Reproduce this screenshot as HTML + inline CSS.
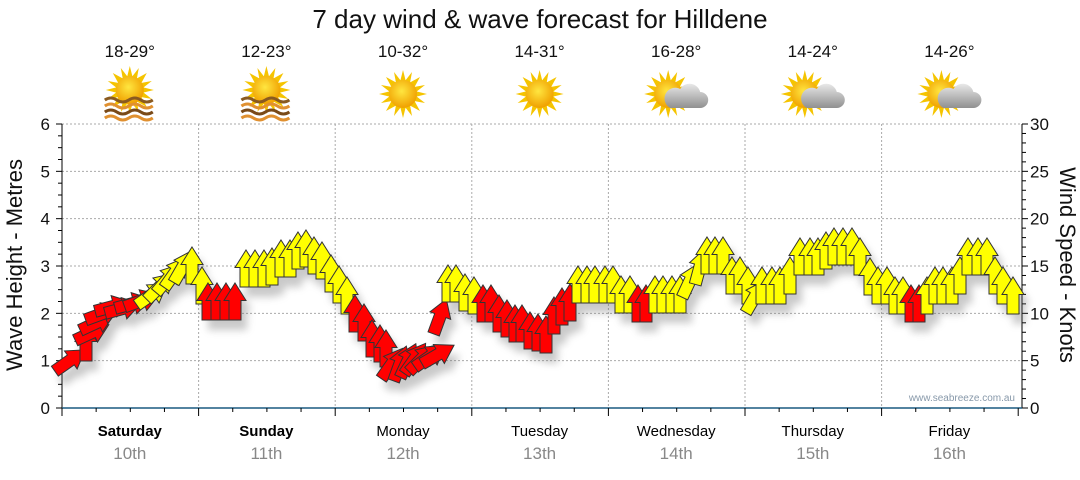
<!DOCTYPE html>
<html><head><meta charset="utf-8"><style>
body{margin:0;background:#fff;width:1080px;height:475px;overflow:hidden}
svg{font-family:"Liberation Sans","DejaVu Sans",sans-serif}
</style></head><body>
<svg id="s" width="1080" height="475" xmlns="http://www.w3.org/2000/svg">
<defs>
<filter id="sh" x="-50%" y="-50%" width="200%" height="200%"><feGaussianBlur stdDeviation="4"/></filter>
<radialGradient id="sun" cx="45%" cy="40%" r="60%"><stop offset="0" stop-color="#ffe640"/><stop offset="1" stop-color="#f0a000"/></radialGradient>
<linearGradient id="cl" x1="0" y1="0" x2="0" y2="1"><stop offset="0" stop-color="#e8e8e8"/><stop offset="1" stop-color="#909090"/></linearGradient>
<g id="sunI"><g fill="#f5c400"><polygon points="0,-24 3,-12 -3,-12"/><polygon points="0,24 3,12 -3,12"/><polygon points="-24,0 -12,3 -12,-3"/><polygon points="24,0 12,3 12,-3"/><polygon points="-17,-17 -6,-11 -11,-6"/><polygon points="17,-17 6,-11 11,-6"/><polygon points="-17,17 -6,11 -11,6"/><polygon points="17,17 6,11 11,6"/><polygon points="-9,-22 -2,-13 -7,-11"/><polygon points="9,-22 2,-13 7,-11"/><polygon points="-22,-9 -13,-2 -11,-7"/><polygon points="22,-9 13,-2 11,-7"/><polygon points="-22,9 -13,2 -11,7"/><polygon points="22,9 13,2 11,7"/><polygon points="-9,22 -2,13 -7,11"/><polygon points="9,22 2,13 7,11"/></g><circle r="14" fill="url(#sun)"/></g>
<g id="wav" fill="none" stroke-width="3"><path d="M-25,2 q6,-4 12,0 t12,0 t12,0 t12,0" stroke="#8a5a20"/><path d="M-25,8 q6,-4 12,0 t12,0 t12,0 t12,0" stroke="#e09030"/><path d="M-25,14 q6,-4 12,0 t12,0 t12,0 t12,0" stroke="#7a4a18"/><path d="M-25,20 q6,-4 12,0 t12,0 t12,0 t12,0" stroke="#e09030"/></g>
<g id="cld"><path d="M-6,14 h30 a8,8 0 0 0 0,-16 a11,11 0 0 0 -20,-3 a8,8 0 0 0 -10,19z" fill="url(#cl)"/></g>
</defs>
<text x="540" y="28" font-size="26" text-anchor="middle" fill="#111">7 day wind &amp; wave forecast for Hilldene</text>
<g id="grid" stroke="#aaa" stroke-dasharray="2,2" stroke-width="1"></g>
<g id="ax"></g>
<g id="arr"></g>
<text x="1015" y="401" font-size="10" fill="#8899aa" text-anchor="end">www.seabreeze.com.au</text>
<text transform="translate(22,265) rotate(-90)" font-size="22" text-anchor="middle" fill="#111">Wave Height - Metres</text>
<text transform="translate(1060,265) rotate(90)" font-size="22" text-anchor="middle" fill="#111">Wind Speed - Knots</text>
</svg>
<script>
var NS="http://www.w3.org/2000/svg",s=document.getElementById('s');
function el(p,t,a,txt){var e=document.createElementNS(NS,t);for(var k in a)e.setAttribute(k,a[k]);if(txt!==undefined)e.textContent=txt;p.appendChild(e);return e;}
var L=62,R=1022,Y0=408,Y6=124,DW=136.6;
var g=document.getElementById('grid'),ax=document.getElementById('ax');
for(var i=1;i<=6;i++){var y=Y0-(Y0-Y6)*i/6;el(g,'line',{x1:L,x2:R,y1:y,y2:y});}
for(var d=1;d<7;d++){var x=L+DW*d;el(g,'line',{x1:x,x2:x,y1:Y6,y2:Y0});}
el(ax,'line',{x1:L,x2:L,y1:Y6,y2:Y0+4,stroke:'#000'});
el(ax,'line',{x1:R,x2:R,y1:Y6,y2:Y0,stroke:'#000'});
el(ax,'line',{x1:L,x2:R,y1:Y0,y2:Y0,stroke:'#1a5a80','stroke-width':1.5});
for(var i=0;i<=24;i++){var y=Y0-(Y0-Y6)*i/24;el(ax,'line',{x1:L-(i%4?4:6),x2:L,y1:y,y2:y,stroke:'#000'});}
for(var i=0;i<=30;i++){var y=Y0-(Y0-Y6)*i/30;el(ax,'line',{x1:R,x2:R+(i%5?4:6),y1:y,y2:y,stroke:'#000'});}
for(var i=0;i<=6;i++){var y=Y0-(Y0-Y6)*i/6;el(ax,'text',{x:50,y:y+6,'font-size':17,'text-anchor':'end',fill:'#111'},i);
 el(ax,'text',{x:1030,y:y+6,'font-size':17,fill:'#111'},i*5);}
for(var i=0;i<=28;i++){var x=L+DW*i/4;el(ax,'line',{x1:x,x2:x,y1:Y0,y2:Y0+(i%4?4:8),stroke:'#000'});}
var days=["Saturday","Sunday","Monday","Tuesday","Wednesday","Thursday","Friday"],temps=["18-29°","12-23°","10-32°","14-31°","16-28°","14-24°","14-26°"];
for(var d=0;d<7;d++){var cx=L+DW*(d+0.5)-0.5;
 el(ax,'text',{x:cx,y:436,'font-size':15,'text-anchor':'middle',fill:'#000','font-weight':d<2?'bold':'normal'},days[d]);
 el(ax,'text',{x:cx,y:459,'font-size':17,'text-anchor':'middle',fill:'#888'},(10+d)+'th');
 el(ax,'text',{x:cx,y:57,'font-size':17,'text-anchor':'middle',fill:'#111'},temps[d]);
 if(d<2){el(ax,'use',{href:'#sunI',x:cx,y:90});el(ax,'use',{href:'#wav',x:cx,y:98});}
 else if(d<4){el(ax,'use',{href:'#sunI',x:cx,y:94});}
 else{el(ax,'use',{href:'#sunI',x:cx-8,y:94});el(ax,'use',{href:'#cld',x:cx,y:94});}
}
var A=[[70,342,55,'R'],[86,324,0,'R'],[92,314,65,'R'],[97,304,65,'R'],[103,295,70,'R'],[113,288,75,'R'],[123,290,75,'R'],[133,285,75,'R'],[142,282,70,'R'],[152,276,55,'Y'],[160,268,45,'Y'],[168,260,40,'Y'],[175,254,35,'Y'],[183,248,30,'Y'],[192,247,0,'Y'],[202,267,0,'Y'],
[208,283,0,'R'],[217,283,0,'R'],[226,283,0,'R'],[235,283,0,'R'],[246,250,0,'Y'],[255,250,0,'Y'],[264,250,0,'Y'],[272,248,0,'Y'],[281,240,0,'Y'],[290,240,0,'Y'],[298,232,0,'Y'],[306,230,0,'Y'],[314,237,0,'Y'],[322,242,0,'Y'],[331,255,0,'Y'],[339,266,0,'Y'],[347,277,0,'Y'],
[355,295,0,'R'],[364,304,0,'R'],[372,320,0,'R'],[380,325,0,'R'],[386,330,0,'R'],[392,345,35,'R'],[400,345,20,'R'],[408,342,25,'R'],[415,340,35,'R'],[422,340,45,'R'],[430,338,55,'R'],[438,336,60,'R'],[440,298,20,'R'],
[448,265,0,'Y'],[456,265,0,'Y'],[465,274,0,'Y'],[474,277,0,'Y'],[483,285,0,'R'],[491,285,0,'R'],[499,295,0,'R'],[507,300,0,'R'],[515,305,0,'R'],[522,305,0,'R'],[530,312,0,'R'],[538,314,0,'R'],[546,316,0,'R'],[554,297,0,'R'],[562,288,0,'R'],[570,284,0,'R'],
[578,266,0,'Y'],[587,266,0,'Y'],[595,266,0,'Y'],[605,266,0,'Y'],[613,266,0,'Y'],[621,276,0,'Y'],[630,276,0,'Y'],[638,285,0,'R'],[646,285,0,'R'],[655,276,0,'Y'],[663,276,0,'Y'],[672,276,0,'Y'],[680,276,0,'Y'],[690,262,25,'Y'],[700,248,15,'Y'],[707,237,0,'Y'],[715,237,0,'Y'],[723,237,0,'Y'],[732,257,0,'Y'],[740,257,0,'Y'],[748,267,0,'Y'],[755,278,30,'Y'],
[762,267,0,'Y'],[772,267,0,'Y'],[780,267,0,'Y'],[790,257,0,'Y'],[800,238,0,'Y'],[810,238,0,'Y'],[818,238,0,'Y'],[826,232,0,'Y'],[834,228,0,'Y'],[843,228,0,'Y'],[852,228,0,'Y'],[860,238,0,'Y'],[870,258,0,'Y'],[878,267,0,'Y'],[887,267,0,'Y'],[895,277,0,'Y'],[903,277,0,'Y'],
[911,285,0,'R'],[919,285,0,'R'],[927,277,0,'Y'],[935,267,0,'Y'],[943,267,0,'Y'],[952,267,0,'Y'],[960,257,0,'Y'],[968,238,0,'Y'],[978,238,0,'Y'],[987,238,0,'Y'],[995,257,0,'Y'],[1003,267,0,'Y'],[1013,277,0,'Y']];
var ag=document.getElementById('arr');
var shp="0,-18.5 11,-1 6,-1 6,18.5 -6,18.5 -6,-1 -11,-1";
var sg=el(ag,'g',{filter:'url(#sh)',opacity:0.35});
A.forEach(function(a){el(sg,'polygon',{points:shp,fill:'#666',transform:'translate('+(a[0]+6)+','+(a[1]+18.5+10)+') rotate('+a[2]+')'});});
A.forEach(function(a){el(ag,'polygon',{points:shp,fill:a[3]=='R'?'#ff0000':'#ffff00',stroke:'#333','stroke-width':1,'stroke-linejoin':'miter',transform:'translate('+a[0]+','+(a[1]+18.5)+') rotate('+a[2]+')'});});
</script>
</body></html>
